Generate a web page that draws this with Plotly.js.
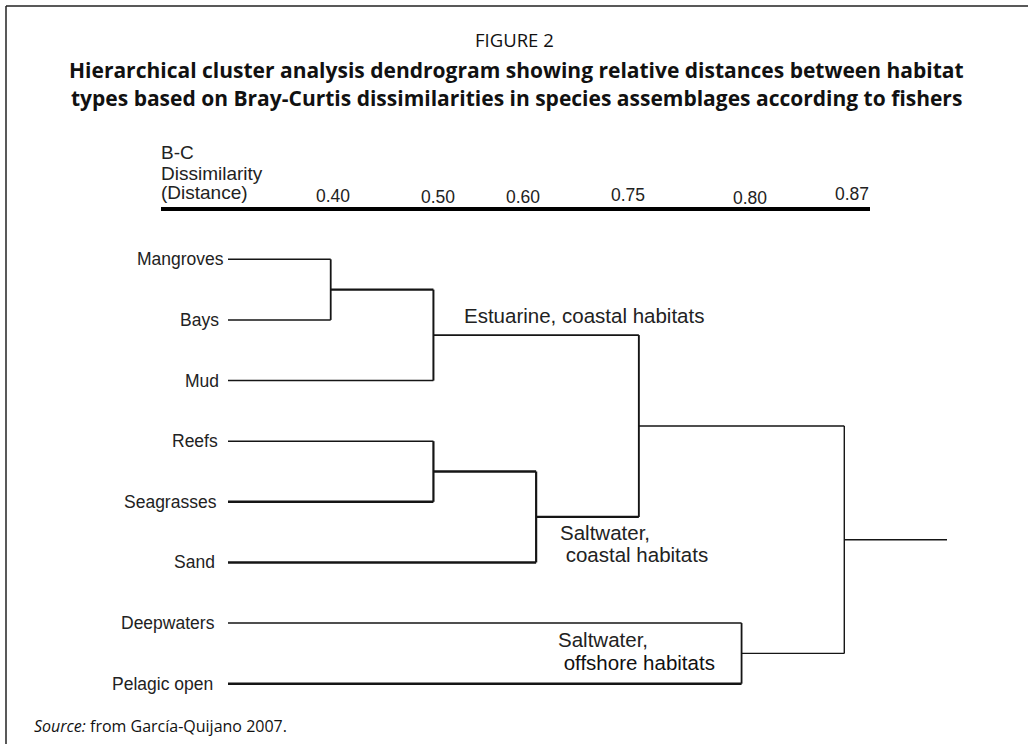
<!DOCTYPE html>
<html>
<head>
<meta charset="utf-8">
<script src="https://cdn.plot.ly/plotly-3.0.1.min.js"></script>
<style>
html,body{margin:0;padding:0;background:#ffffff;}
#chart{width:1028px;height:744px;}
</style>
</head>
<body>
<div id="chart"></div>
<script>
// ---------------- data ----------------
// leaves of the dendrogram, top to bottom
const leaves = ['Mangroves', 'Bays', 'Mud', 'Reefs', 'Seagrasses', 'Sand', 'Deepwaters', 'Pelagic open'];
// Bray-Curtis dissimilarity levels on the scale
const levels = ['0.40', '0.50', '0.60', '0.75', '0.80', '0.87'];
// clusters: each joins two members at a dissimilarity level
const clusterIds   = ['C1', 'C2', 'C3', 'C4', 'C5', 'C6', 'C7'];
const clusterLeft  = ['Mangroves', 'C1', 'Reefs', 'C3', 'C2', 'Deepwaters', 'C5'];
const clusterRight = ['Bays', 'Mud', 'Seagrasses', 'Sand', 'C4', 'Pelagic open', 'C6'];
const clusterLevel = ['0.40', '0.50', '0.50', '0.60', '0.75', '0.80', '0.87'];
// group labels
const groupLabels = ['Estuarine, coastal habitats', 'Saltwater,', '\u00a0coastal habitats', 'Saltwater,', '\u00a0offshore habitats'];
const axisTitle = ['B-C', 'Dissimilarity', '(Distance)'];
const titleTop = 'FIGURE 2';
const titleLines = ['Hierarchical cluster analysis dendrogram showing relative distances between habitat',
                    'types based on Bray-Curtis dissimilarities in species assemblages according to fishers'];
const sourceText = '<i>Source:</i> from García-Quijano 2007.';

// ---------------- layout helpers ----------------
const W = 1028, H = 744;
const mL = 228, mR = 81, mT = 229, mB = 30;
const pw = W - mL - mR, ph = H - mT - mB;
const px = x => (x - mL) / pw;
const py = y => (H - mB - y) / ph;

const xBase = 'leaf', xStem = 'stem';
const xCats = [xBase].concat(levels, [xStem]);

// line styles
const lineColor = '#151515';
const armWidth = {
  'Mangroves': 1.4, 'Bays': 1.6, 'Mud': 1.6, 'Reefs': 1.6, 'Seagrasses': 2.4, 'Sand': 2.4,
  'Deepwaters': 1.4, 'Pelagic open': 2.4, 'C1': 2.2, 'C2': 1.9, 'C3': 2.4, 'C4': 2.2,
  'C5': 1.4, 'C6': 1.4, 'C7': 1.4
};
const barWidth = { 'C1': 1.8, 'C2': 2.0, 'C3': 2.2, 'C4': 2.2, 'C5': 1.9, 'C6': 1.8, 'C7': 1.4 };

// ---------------- dendrogram geometry ----------------
const node = {};
leaves.forEach((n, i) => { node[n] = { x: xBase, y: i }; });
clusterIds.forEach((id, k) => {
  const a = node[clusterLeft[k]], b = node[clusterRight[k]];
  node[id] = { x: clusterLevel[k], y: (a.y + b.y) / 2 };
});

const traces = [];
function seg(xs, ys, w) {
  traces.push({
    type: 'scatter', mode: 'lines', x: xs, y: ys,
    line: { color: lineColor, width: w },
    hoverinfo: 'skip', showlegend: false
  });
}
clusterIds.forEach((id, k) => {
  const lvl = clusterLevel[k];
  const a = node[clusterLeft[k]], b = node[clusterRight[k]];
  seg([a.x, lvl], [a.y, a.y], armWidth[clusterLeft[k]]);
  seg([b.x, lvl], [b.y, b.y], armWidth[clusterRight[k]]);
  seg([lvl, lvl], [a.y, b.y], barWidth[id]);
});
const root = node[clusterIds[clusterIds.length - 1]];
seg([root.x, xStem], [root.y, root.y], armWidth['C7']);

// ---------------- annotations ----------------
const leafFont  = { family: 'Liberation Sans, Arial, sans-serif', size: 17.5, color: '#222' };
const tickFont  = { family: 'Liberation Sans, Arial, sans-serif', size: 17.5, color: '#222' };
const titleFont = { family: 'Liberation Sans, Arial, sans-serif', size: 19, color: '#222' };
const groupFont = { family: 'Liberation Sans, Arial, sans-serif', size: 20.5, color: '#222' };
const annotations = [];
function txt(text, x, y, xanchor, font, extra) {
  annotations.push(Object.assign({
    text: text, xref: 'paper', yref: 'paper', x: px(x), y: py(y),
    xanchor: xanchor, yanchor: 'middle', showarrow: false, font: font
  }, extra || {}));
}
// leaf labels, right of them the leaf lines start
const leafGap = [2, 7, 7, 8, 9, 11, 11, 13];
leaves.forEach((n, i) => {
  annotations.push({
    text: n, xref: 'x', yref: 'y', x: xCats.indexOf(xBase), y: node[n].y,
    xshift: -leafGap[i], xanchor: 'right', yanchor: 'middle', showarrow: false, font: leafFont
  });
});
// tick labels of the dissimilarity scale
const labelShift = [2, 5, -13, -11, 8, 8];
const labelRaise = [1, 0, 0, 2, -1, 3];
levels.forEach((lv, i) => {
  annotations.push({
    text: lv, xref: 'x', yref: 'paper', x: xCats.indexOf(lv), y: py(197),
    xshift: labelShift[i], yshift: labelRaise[i],
    xanchor: 'center', yanchor: 'middle', showarrow: false, font: tickFont
  });
});
// axis title
txt(axisTitle[0], 159, 153, 'left', titleFont);
txt(axisTitle[1], 159, 173, 'left', titleFont);
txt(axisTitle[2], 159, 192, 'left', titleFont);
// group labels
txt(groupLabels[0], 462, 315, 'left', groupFont);
txt(groupLabels[1], 558, 532, 'left', groupFont);
txt(groupLabels[2], 558, 554, 'left', groupFont);
txt(groupLabels[3], 556, 639, 'left', groupFont);
txt(groupLabels[4], 556, 662, 'left', Object.assign({}, groupFont, { color: '#111' }));
// titles
const headFont = { family: 'Open Sans, Noto Sans, sans-serif', size: 18.5, color: '#111' };
const boldFont = { family: 'Open Sans, Noto Sans, sans-serif', size: 21, color: '#111', weight: 'bold' };
txt(titleTop, 514, 39, 'center', headFont);
txt('<b>' + titleLines[0] + '</b>', 516, 70, 'center', boldFont);
txt('<b>' + titleLines[1] + '</b>', 516, 98, 'center', boldFont);
// source
txt(sourceText, 32, 726, 'left', { family: 'Open Sans, Noto Sans, sans-serif', size: 16, color: '#111' });

// ---------------- shapes ----------------
const shapes = [
  // scale bar
  { type: 'line', xref: 'paper', yref: 'paper', x0: px(161), x1: px(870), y0: py(209), y1: py(209),
    line: { color: '#000', width: 4 } },
  // frame (left and top)
  { type: 'line', xref: 'paper', yref: 'paper', x0: px(6), x1: px(6), y0: py(6), y1: py(746),
    line: { color: '#222', width: 1.5 } },
  { type: 'line', xref: 'paper', yref: 'paper', x0: px(6), x1: px(1030), y0: py(6), y1: py(6),
    line: { color: '#222', width: 1.5 } }
];

const layout = {
  width: W, height: H,
  margin: { l: mL, r: mR, t: mT, b: mB, pad: 0 },
  paper_bgcolor: '#fff', plot_bgcolor: '#fff',
  showlegend: false,
  xaxis: {
    type: 'category', categoryorder: 'array', categoryarray: xCats,
    range: [0, xCats.length - 1], showticklabels: false, showgrid: false,
    zeroline: false, showline: false, ticks: '', fixedrange: true
  },
  yaxis: {
    type: 'linear', range: [leaves.length - 0.5, -0.5], autorange: false,
    showticklabels: false, showgrid: false, zeroline: false, showline: false, ticks: '',
    automargin: false, fixedrange: true
  },
  annotations: annotations,
  shapes: shapes
};

Plotly.newPlot('chart', traces, layout, { staticPlot: true, displayModeBar: false });
</script>
</body>
</html>
